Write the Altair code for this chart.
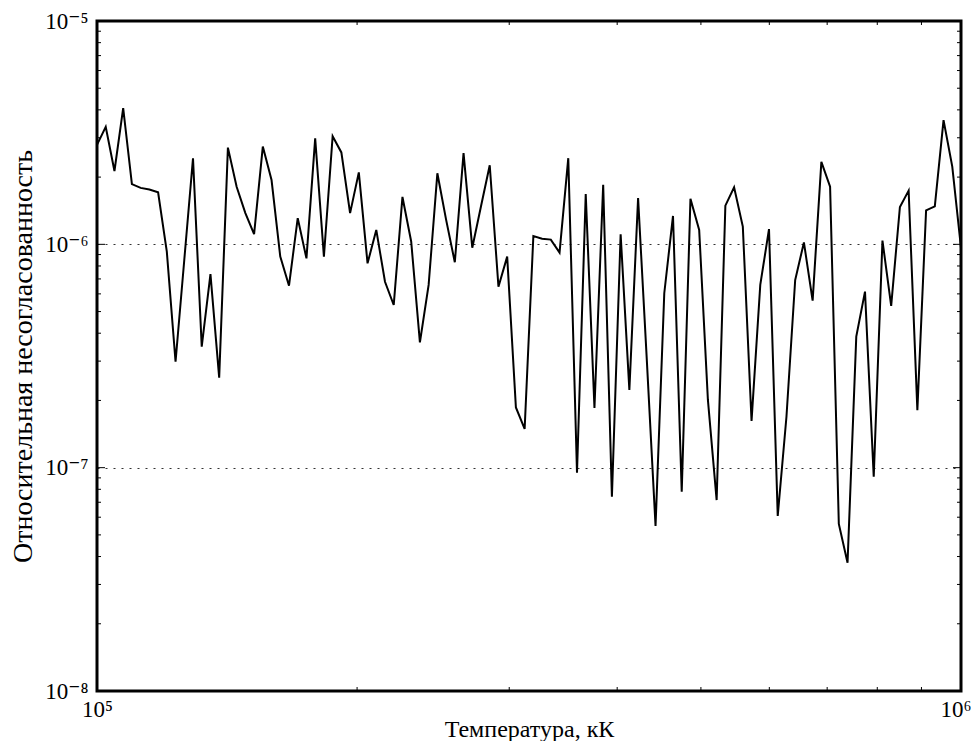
import altair as alt
import numpy as np
import pandas as pd

# Temperature grid (K): 100 log-spaced samples from 1e5 to 1e6
temperature = np.logspace(5, 6, 100)

# Relative discrepancy
discrepancy = [
    2.79e-6, 3.36e-6, 2.13e-6, 4.07e-6, 1.86e-6, 1.79e-6, 1.76e-6, 1.71e-6, 9.27e-7, 2.98e-7,
    8.51e-7, 2.43e-6, 3.48e-7, 7.36e-7, 2.53e-7, 2.71e-6, 1.81e-6, 1.38e-6, 1.11e-6, 2.74e-6,
    1.94e-6, 8.81e-7, 6.53e-7, 1.31e-6, 8.65e-7, 2.98e-6, 8.81e-7, 3.05e-6, 2.58e-6, 1.38e-6,
    2.10e-6, 8.22e-7, 1.16e-6, 6.80e-7, 5.35e-7, 1.63e-6, 1.03e-6, 3.64e-7, 6.58e-7, 2.08e-6,
    1.29e-6, 8.31e-7, 2.56e-6, 9.66e-7, 1.48e-6, 2.26e-6, 6.46e-7, 8.81e-7, 1.86e-7, 1.49e-7,
    1.09e-6, 1.06e-6, 1.05e-6, 9.18e-7, 2.43e-6, 9.49e-8, 1.68e-6, 1.85e-7, 1.85e-6, 7.41e-8,
    1.11e-6, 2.23e-7, 1.61e-6, 3.03e-7, 5.48e-8, 6.04e-7, 1.34e-6, 7.80e-8, 1.60e-6, 1.16e-6,
    2.01e-7, 7.16e-8, 1.49e-6, 1.80e-6, 1.20e-6, 1.62e-7, 6.58e-7, 1.17e-6, 6.08e-8, 1.69e-7,
    6.92e-7, 1.02e-6, 5.60e-7, 2.34e-6, 1.81e-6, 5.60e-8, 3.75e-8, 3.86e-7, 6.14e-7, 9.10e-8,
    1.04e-6, 5.30e-7, 1.47e-6, 1.74e-6, 1.81e-7, 1.42e-6, 1.48e-6, 3.60e-6, 2.23e-6, 9.64e-7,
]

x_major = [1e5, 1e6]
x_major_labels = ["10⁵", "10⁶"]
x_minor = [2e5, 3e5, 4e5, 5e5, 6e5, 7e5, 8e5, 9e5]

y_major = [1e-8, 1e-7, 1e-6, 1e-5]
y_major_labels = ["10⁻⁸", "10⁻⁷", "10⁻⁶", "10⁻⁵"]
y_minor = [m * d for d in (1e-8, 1e-7, 1e-6) for m in range(2, 10)]

x_title = "Температура, кК"
y_title = "Относительная несогласованность"

W, H = 864, 670
FONT = "Liberation Serif, Times New Roman, DejaVu Serif, serif"

df = pd.DataFrame({"T": temperature, "err": discrepancy})

xscale = alt.Scale(type="log", domain=[1e5, 1e6], nice=False)
yscale = alt.Scale(type="log", domain=[1e-8, 1e-5], nice=False)


def label_expr(values, labels):
    expr = "''"
    for v, l in zip(values, labels):
        expr = f"(abs(log(datum.value) - log({v})) < 0.01 ? '{l}' : {expr})"
    return expr


last_x = f"datum.value > {x_major[-1] * 0.9}"

x_axis = alt.Axis(
    values=x_major, labelExpr=label_expr(x_major, x_major_labels),
    title=x_title, grid=False, ticks=False, domain=False,
    labelFont=FONT, labelFontSize=23, labelColor="black", labelPadding=7,
    labelFlush=False, labelOverlap=False,
    labelAlign={"condition": {"test": last_x, "value": "right"}, "value": "center"},
    labelOffset={"condition": {"test": last_x, "value": 10}, "value": 0},
    titleFont=FONT, titleFontSize=24, titleFontWeight="normal",
    titleColor="black", titlePadding=-4,
)
y_axis = alt.Axis(
    values=y_major, labelExpr=label_expr(y_major, y_major_labels),
    title=y_title, grid=True, gridColor="black", gridDash=[2, 6],
    gridWidth=1, gridOpacity=0.8, ticks=False, domain=False,
    labelFont=FONT, labelFontSize=23, labelColor="black", labelPadding=9,
    labelFlush=False, labelOverlap=False, labelBaseline="middle",
    titleFont=FONT, titleFontSize=28, titleFontWeight="normal",
    titleColor="black", titlePadding=7, titleLimit=700,
)

line = alt.Chart(df).mark_line(color="black", strokeWidth=2).encode(
    x=alt.X("T:Q", scale=xscale, axis=x_axis),
    y=alt.Y("err:Q", scale=yscale, axis=y_axis),
)

ymin_df = pd.DataFrame({"v": y_minor})
ymaj_df = pd.DataFrame({"v": y_major})
xmin_df = pd.DataFrame({"v": x_minor})

rule = dict(color="black", strokeWidth=1)

left_minor = alt.Chart(ymin_df).mark_rule(**rule).encode(
    y=alt.Y("v:Q", scale=yscale, axis=y_axis), x=alt.value(0), x2=alt.value(4))
right_minor = alt.Chart(ymin_df).mark_rule(**rule).encode(
    y=alt.Y("v:Q", scale=yscale, axis=y_axis), x=alt.value(W - 4), x2=alt.value(W))
left_major = alt.Chart(ymaj_df).mark_rule(**rule).encode(
    y=alt.Y("v:Q", scale=yscale, axis=y_axis), x=alt.value(0), x2=alt.value(8))
right_major = alt.Chart(ymaj_df).mark_rule(**rule).encode(
    y=alt.Y("v:Q", scale=yscale, axis=y_axis), x=alt.value(W - 8), x2=alt.value(W))
bottom_minor = alt.Chart(xmin_df).mark_rule(**rule).encode(
    x=alt.X("v:Q", scale=xscale, axis=x_axis), y=alt.value(H - 4), y2=alt.value(H))
top_minor = alt.Chart(xmin_df).mark_rule(**rule).encode(
    x=alt.X("v:Q", scale=xscale, axis=x_axis), y=alt.value(0), y2=alt.value(4))

chart = alt.layer(
    line, left_minor, right_minor, left_major, right_major, bottom_minor, top_minor
).properties(
    width=W, height=H,
    background="white",
    autosize=alt.AutoSizeParams(type="none"),
    padding={"left": 89, "top": 13, "right": 10, "bottom": 50},
).configure_view(
    stroke="black", strokeWidth=3
)

chart.save("out.html", embed_options={"renderer": "svg", "actions": False})
